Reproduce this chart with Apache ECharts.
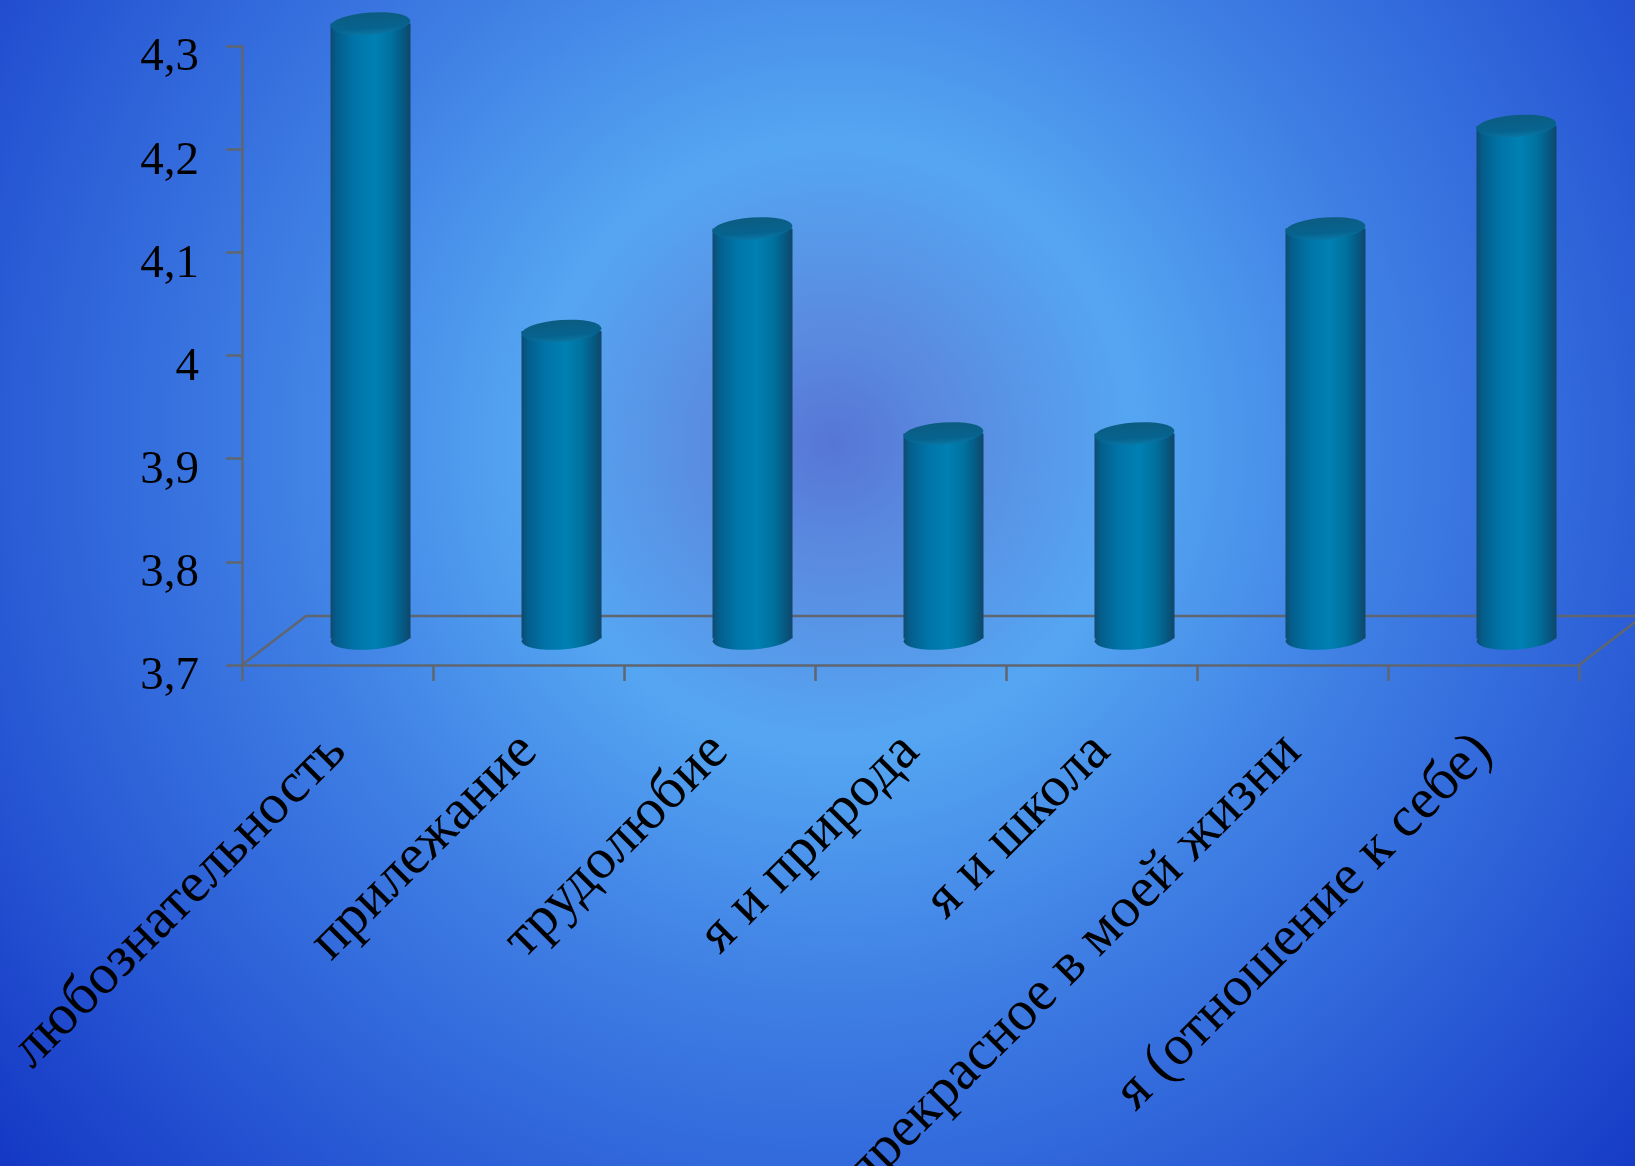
<!DOCTYPE html>
<html><head><meta charset="utf-8">
<style>html,body{margin:0;padding:0;background:#1539c6}#c{width:1635px;height:1166px}</style>
<script src="https://cdn.jsdelivr.net/npm/echarts@6/dist/echarts.min.js"></script>
</head><body><div id="c"></div>
<script>
const categories = ['любознательность','прилежание','трудолюбие','я и природа','я и школа','прекрасное в моей жизни','я (отношение к себе)'];
const values = [4.3, 4.0, 4.1, 3.9, 3.9, 4.1, 4.2];
const yTickLabels = ['3,7','3,8','3,9','4','4,1','4,2','4,3'];
const Y_MIN = 3.7, Y_MAX = 4.3;

const FONT = 'Liberation Serif';
const L = 242, R = 1579, T = 46, B = 665, DX = 64, DY = 49;
const AXIS = '#5f6670';
const side = {type:'linear',x:0,y:0,x2:1,y2:0,colorStops:[
  {offset:0,color:'#0e4a70'},{offset:.08,color:'#045e8c'},{offset:.3,color:'#0074a8'},
  {offset:.55,color:'#0080b3'},{offset:.75,color:'#00729f'},{offset:.9,color:'#055a84'},{offset:1,color:'#104669'}]};
const cap = {type:'linear',x:0,y:0,x2:0,y2:1,colorStops:[
  {offset:0,color:'#0c5c82'},{offset:.7,color:'#06638e'},{offset:1,color:'#0a76a4'}]};

const chart = echarts.init(document.getElementById('c'), null, {renderer:'canvas'});
chart.setOption({
  animation:false,
  backgroundColor:{type:'radial',x:.51,y:.38,r:.95,colorStops:[
    {offset:0,color:'#5676d5'},{offset:.1,color:'#5a8ae0'},{offset:.27,color:'#55a6f2'},
    {offset:.5,color:'#3f7fe4'},{offset:.75,color:'#2a5cd6'},{offset:1,color:'#1437c4'}]},
  grid:[
    {left:L,top:T,width:R-L,height:B-T,containLabel:false,outerBoundsMode:'none'},
    {left:L+DX/2+1,top:T-DY/2+2,width:R-L,height:B-T-4,containLabel:false,outerBoundsMode:'none'}
  ],
  xAxis:[
    {type:'category',gridIndex:0,data:categories,boundaryGap:true,
     axisLine:{show:true,lineStyle:{color:AXIS,width:2.5}},
     axisTick:{show:true,length:16,lineStyle:{color:AXIS,width:2.5},alignWithLabel:false},
     axisLabel:{show:true,interval:0,rotate:45,margin:78,hideOverlap:false,color:'#000',fontFamily:FONT,fontSize:57},
     splitLine:{show:false}},
    {type:'category',gridIndex:1,data:categories,show:false}
  ],
  yAxis:[
    {type:'value',gridIndex:0,min:Y_MIN,max:Y_MAX,interval:.1,
     axisLine:{show:true,lineStyle:{color:AXIS,width:2.5}},
     axisTick:{show:true,length:16,lineStyle:{color:AXIS,width:2.5}},
     splitLine:{show:false},
     axisLabel:{show:true,margin:43,color:'#000',fontFamily:FONT,fontSize:47,verticalAlign:'top',lineHeight:24,
       showMinLabel:true,showMaxLabel:true,formatter:(v,i)=>yTickLabels[i]}},
    {type:'value',gridIndex:1,min:Y_MIN,max:Y_MAX,interval:.1,show:false}
  ],
  graphic:[{type:'polyline',z:0,silent:true,
    shape:{points:[[L,B],[L+DX,B-DY],[R+DX,B-DY],[R,B]]},
    style:{fill:null,stroke:AXIS,lineWidth:2.5}}],
  series:[
    {type:'scatter',name:'base',xAxisIndex:1,yAxisIndex:1,data:values.map((v,i)=>[i,Y_MIN]),clip:false,z:3,
     symbol:'circle',symbolSize:[80,22],symbolRotate:4,itemStyle:{color:side,opacity:1}},
    {type:'bar',name:'side',xAxisIndex:1,yAxisIndex:1,data:values,barWidth:80,z:4,itemStyle:{color:side}},
    {type:'scatter',name:'top',xAxisIndex:1,yAxisIndex:1,data:values.map((v,i)=>[i,v]),clip:false,z:5,
     symbol:'circle',symbolSize:[80,22],symbolRotate:4,itemStyle:{color:cap,opacity:1}}
  ]
});
</script></body></html>
